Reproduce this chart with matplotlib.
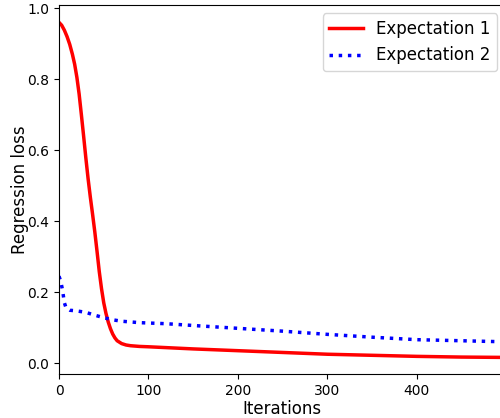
import matplotlib
matplotlib.use("Agg")
import matplotlib.pyplot as plt

# values
iters_1 = [0, 3, 6, 9, 12, 15, 17.5, 20, 22.5, 25, 27.5, 30, 32.5, 35,
           37.5, 40, 42.5, 45, 47.5, 50, 52.5, 55, 57.5, 60, 62.5, 65,
           70, 75, 80, 90, 100, 150, 200, 250, 300, 350, 400, 450, 499]
loss_1 = [0.960, 0.952, 0.938, 0.920, 0.898, 0.870, 0.842, 0.805, 0.758,
          0.700, 0.640, 0.578, 0.520, 0.468, 0.420, 0.370, 0.315, 0.258,
          0.210, 0.170, 0.140, 0.116, 0.097, 0.082, 0.071, 0.063, 0.055,
          0.051, 0.049, 0.047, 0.046, 0.040, 0.035, 0.030, 0.025, 0.022,
          0.019, 0.017, 0.016]

iters_2 = [0, 2, 4, 6, 8, 12, 20, 30, 40, 50, 60, 70, 90, 120, 150, 200,
           250, 300, 350, 400, 450, 499]
loss_2 = [0.245, 0.230, 0.205, 0.170, 0.155, 0.149, 0.147, 0.143, 0.135,
          0.128, 0.122, 0.118, 0.114, 0.111, 0.106, 0.098, 0.090, 0.081,
          0.073, 0.066, 0.063, 0.060]

fig = plt.figure(figsize=(5, 4.18), dpi=100)
ax = fig.add_axes([0.118, 0.105, 0.893, 0.883])

ax.plot(iters_1, loss_1, color="red", linewidth=2.5, label="Expectation 1")
ax.plot(iters_2, loss_2, color="blue", linestyle=":", linewidth=2.5,
        label="Expectation 2")

ax.set_xlim(0, 499)
ax.set_ylim(-0.031, 1.009)
ax.set_xticks([0, 100, 200, 300, 400])
ax.set_yticks([0.0, 0.2, 0.4, 0.6, 0.8, 1.0])
ax.tick_params(labelsize=10)
ax.set_xlabel("Iterations", fontsize=12)
ax.set_ylabel("Regression loss", fontsize=12)
ax.xaxis.set_label_coords(0.5, -0.07)
ax.yaxis.set_label_coords(-0.068, 0.5)
ax.legend(loc="upper right", fontsize=12)

fig.savefig("out.png", dpi=100)
